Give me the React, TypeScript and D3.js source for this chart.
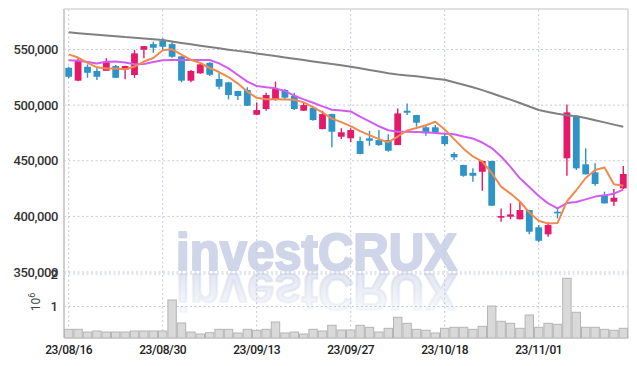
import { useEffect, useRef } from "react";
import * as d3 from "d3";

// trading days (KRX)
const dates = [
  "23/08/16", "23/08/17", "23/08/18", "23/08/21", "23/08/22", "23/08/23", "23/08/24", "23/08/25", "23/08/28", "23/08/29",
  "23/08/30", "23/08/31", "23/09/01", "23/09/04", "23/09/05", "23/09/06", "23/09/07", "23/09/08", "23/09/11", "23/09/12",
  "23/09/13", "23/09/14", "23/09/15", "23/09/18", "23/09/19", "23/09/20", "23/09/21", "23/09/22", "23/09/25", "23/09/26",
  "23/09/27", "23/10/04", "23/10/05", "23/10/06", "23/10/10", "23/10/11", "23/10/12", "23/10/13", "23/10/16", "23/10/17",
  "23/10/18", "23/10/19", "23/10/20", "23/10/23", "23/10/24", "23/10/25", "23/10/26", "23/10/27", "23/10/30", "23/10/31",
  "23/11/01", "23/11/02", "23/11/03", "23/11/06", "23/11/07", "23/11/08", "23/11/09", "23/11/10", "23/11/13", "23/11/14",
];

const opens = [
  533600, 522000, 534500, 530700, 530900, 535200, 531800, 527100, 549800, 554900,
  557900, 554900, 543900, 522000, 528600, 538100, 523500, 520500, 512700, 513600,
  491400, 496500, 505500, 513600, 508500, 495000, 497700, 478500, 492000, 471600,
  470200, 467700, 470200, 468600, 468600, 464100, 495000, 491100, 480100, 480100,
  472200, 456100, 446200, 439200, 440100, 449800, 398800, 399700, 397400, 405700,
  390200, 383900, 404200, 452200, 490500, 446800, 439600, 419200, 413200, 425200,
];
const highs = [
  534500, 542100, 536700, 533100, 542100, 536000, 535500, 549600, 553100, 557000,
  560100, 557000, 544200, 531600, 537000, 538500, 529100, 521000, 513000, 516000,
  502500, 511200, 521100, 514500, 511200, 502500, 498000, 495000, 492300, 479200,
  479200, 471600, 477000, 477600, 473800, 497100, 501600, 491300, 482100, 482100,
  474700, 457600, 446500, 443200, 450000, 450000, 407200, 411700, 413200, 406000,
  392200, 394700, 407200, 500700, 490800, 461200, 447700, 422200, 424600, 445300,
];
const lows = [
  524100, 521500, 524600, 522600, 530900, 524400, 523200, 524600, 542100, 547100,
  549600, 542600, 520500, 520500, 528300, 526200, 514200, 505200, 504600, 499300,
  491000, 495000, 504000, 505200, 495600, 494700, 486000, 478200, 462100, 469500,
  466600, 455800, 463500, 463500, 458100, 464100, 491100, 480600, 472500, 474000,
  463500, 450700, 435600, 431200, 423100, 409300, 395200, 397400, 397100, 383900,
  376700, 381700, 398200, 436500, 441700, 437600, 427600, 411500, 409300, 424600,
];
const closes = [
  525500, 540600, 529100, 525500, 539000, 524600, 535200, 546600, 553100, 551600,
  552500, 543500, 522000, 530700, 536700, 527300, 516600, 509100, 508200, 499500,
  495600, 509100, 514500, 506700, 496500, 500100, 486600, 492000, 476100, 475600,
  477600, 456100, 468000, 464100, 459000, 492600, 493200, 484200, 474700, 475200,
  465000, 453100, 436500, 436500, 449800, 409600, 400300, 401800, 405700, 386200,
  378100, 392200, 402700, 493500, 443200, 437800, 429100, 411700, 416800, 438100,
];
const volumes = [
  298000, 298000, 215000, 246000, 215000, 215000, 215000, 246000, 246000, 246000,
  246000, 1200000, 492000, 215000, 154000, 194000, 298000, 298000, 185000, 298000,
  268000, 298000, 523000, 185000, 215000, 154000, 298000, 246000, 422000, 277000,
  277000, 422000, 360000, 215000, 329000, 668000, 483000, 298000, 268000, 185000,
  329000, 360000, 360000, 298000, 391000, 1015000, 545000, 483000, 329000, 738000,
  360000, 483000, 452000, 1868000, 822000, 360000, 360000, 298000, 268000, 329000,
];
const ma5 = [
  545700, 542800, 538000, 534000, 532900, 532900, 532200, 534700, 539200, 542400,
  549300, 550200, 545500, 540800, 537900, 533400, 529800, 525300, 519400, 512200,
  506600, 505400, 505300, 505000, 504800, 502500, 498300, 493500, 487900, 484800,
  481200, 476700, 473100, 469500, 466700, 471800, 477200, 479400, 481900, 485100,
  478100, 469500, 460900, 453900, 449300, 439000, 426800, 420500, 413400, 403500,
  396100, 393500, 394000, 413500, 423500, 434500, 441700, 443900, 428800, 427600,
];
const ma20 = [
  540300, 539900, 538800, 537400, 539000, 539200, 538300, 536800, 537000, 538800,
  540300, 540600, 540600, 540600, 540600, 540600, 537600, 533100, 527100, 521100,
  517200, 516000, 515100, 512700, 508500, 505200, 502200, 498900, 495900, 495300,
  494400, 489600, 485500, 481000, 477400, 476100, 476100, 475800, 475600, 474900,
  474300, 473800, 471800, 470000, 466400, 461400, 453800, 444500, 434200, 426400,
  418300, 411700, 407300, 412000, 412900, 415300, 417800, 418900, 420400, 424100,
];
const ma60 = [
  565500, 564700, 564000, 563400, 562700, 562000, 561200, 560600, 559900, 559200,
  558500, 557200, 555900, 554700, 553400, 552200, 551100, 549900, 548800, 547700,
  546500, 545300, 544200, 542900, 541700, 540600, 539300, 538100, 537000, 535800,
  534500, 533100, 531700, 530200, 528700, 527500, 526700, 525900, 524900, 523800,
  522800, 520600, 518400, 516100, 513500, 510700, 507800, 505000, 501900, 498800,
  495700, 493900, 492200, 491000, 490000, 488400, 486400, 484500, 482500, 480500,
];

const priceTicks = [350000, 400000, 450000, 500000, 550000];
const volTicks = [1000000, 2000000];
const dateTicks = ["23/08/16", "23/08/30", "23/09/13", "23/09/27", "23/10/18", "23/11/01"];

export default function App() {
  const ref = useRef<SVGSVGElement>(null);

  useEffect(() => {
    if (!ref.current) return;
    const svg = d3.select(ref.current);
    svg.selectAll("*").remove();

    const left = 64;
    const right = 628;
    const top = 9.5;
    const priceBottom = 272;
    const bottom = 338;
    const font = "Roboto, 'DejaVu Sans', sans-serif";
    const gridColor = "#c5c9dc";
    const wmColor = "#d0d6ea";

    const x = d3.scaleBand().domain(dates).range([left, right]).padding(0);
    const cx = (d: string) => (x(d) || 0) + x.bandwidth() / 2;
    const y = d3.scaleLinear().domain([350000, 586000]).range([priceBottom, top]);
    const yv = d3.scaleLinear().domain([0, 2000000]).range([339, 274]);

    const defs = svg.append("defs");
    defs
      .append("clipPath")
      .attr("id", "volclip")
      .append("rect")
      .attr("x", left)
      .attr("y", 272)
      .attr("width", right - left)
      .attr("height", bottom - 272);
    const grad = defs
      .append("linearGradient")
      .attr("id", "reflect")
      .attr("gradientUnits", "userSpaceOnUse")
      .attr("x1", 0)
      .attr("x2", 0)
      .attr("y1", 271)
      .attr("y2", 232);
    grad.append("stop").attr("offset", 0).attr("stop-color", wmColor).attr("stop-opacity", 0.6);
    grad.append("stop").attr("offset", 1).attr("stop-color", wmColor).attr("stop-opacity", 0.15);

    // watermark + reflection
    const wm = svg.append("g");
    wm.append("text")
      .attr("x", 176)
      .attr("y", 270)
      .attr("textLength", 281)
      .attr("lengthAdjust", "spacingAndGlyphs")
      .style("font-family", "'Liberation Sans', Arial, sans-serif")
      .style("font-weight", "bold")
      .style("font-size", "51px")
      .attr("fill", wmColor)
      .attr("stroke", wmColor)
      .attr("stroke-width", 2.2)
      .attr("stroke-linejoin", "round")
      .text("investCRUX");
    wm.append("text")
      .attr("transform", "translate(0,544) scale(1,-1)")
      .attr("x", 176)
      .attr("y", 270)
      .attr("textLength", 281)
      .attr("lengthAdjust", "spacingAndGlyphs")
      .style("font-family", "'Liberation Sans', Arial, sans-serif")
      .style("font-weight", "bold")
      .style("font-size", "51px")
      .attr("fill", "url(#reflect)")
      .attr("stroke", "url(#reflect)")
      .attr("stroke-width", 2.2)
      .attr("stroke-linejoin", "round")
      .text("investCRUX");

    // grid
    const grid = svg.append("g").attr("stroke", gridColor).attr("stroke-dasharray", "2,2.5");
    grid
      .selectAll(".hp")
      .data(priceTicks)
      .join("line")
      .attr("x1", left)
      .attr("x2", right)
      .attr("y1", (d) => y(d))
      .attr("y2", (d) => y(d));
    grid
      .selectAll(".hv")
      .data(volTicks)
      .join("line")
      .attr("x1", left)
      .attr("x2", right)
      .attr("y1", (d) => yv(d))
      .attr("y2", (d) => yv(d));
    grid
      .selectAll(".vx")
      .data(dateTicks)
      .join("line")
      .attr("x1", (d) => cx(d))
      .attr("x2", (d) => cx(d))
      .attr("y1", top)
      .attr("y2", bottom);

    // frame
    svg.append("line").attr("x1", left).attr("x2", right).attr("y1", top - 0.5).attr("y2", top - 0.5)
      .attr("stroke", "#d6d6d6").attr("stroke-width", 1.5);
    svg.append("line").attr("x1", right).attr("x2", right).attr("y1", top - 0.5).attr("y2", bottom)
      .attr("stroke", "#d6d6d6").attr("stroke-width", 1.5);
    svg.append("line").attr("x1", left).attr("x2", left).attr("y1", top - 0.5).attr("y2", bottom)
      .attr("stroke", "#cfcfcf").attr("stroke-width", 2);

    // volume bars
    svg
      .append("g")
      .attr("clip-path", "url(#volclip)")
      .selectAll("rect")
      .data(volumes)
      .join("rect")
      .attr("x", (_, i) => (x(dates[i]) || 0) + 0.5)
      .attr("width", x.bandwidth() - 1)
      .attr("y", (d) => yv(d))
      .attr("height", (d) => bottom - yv(d))
      .attr("fill", "#d9d9d9")
      .attr("stroke", "#b5b5b5")
      .attr("stroke-width", 1);

    // candles
    const up = "#e5196a";
    const down = "#2e94c8";
    const idx = d3.range(dates.length);
    const candles = svg.append("g");
    candles
      .selectAll("line")
      .data(idx)
      .join("line")
      .attr("x1", (i) => cx(dates[i]))
      .attr("x2", (i) => cx(dates[i]))
      .attr("y1", (i) => y(highs[i]))
      .attr("y2", (i) => y(lows[i]))
      .attr("stroke", (i) => (closes[i] >= opens[i] ? up : down))
      .attr("stroke-width", 1.4);
    candles
      .selectAll("rect")
      .data(idx)
      .join("rect")
      .attr("x", (i) => cx(dates[i]) - 3.4)
      .attr("width", 6.8)
      .attr("y", (i) => y(Math.max(opens[i], closes[i])))
      .attr("height", (i) => Math.max(1.5, Math.abs(y(opens[i]) - y(closes[i]))))
      .attr("fill", (i) => (closes[i] >= opens[i] ? up : down));

    // moving averages
    const lines: [number[], string][] = [
      [ma60, "#808080"],
      [ma20, "#d35cf0"],
      [ma5, "#f08a4f"],
    ];
    lines.forEach(([vals, color]) => {
      const line = d3
        .line<number>()
        .x((_, i) => cx(dates[i]))
        .y((d) => y(d));
      svg
        .append("path")
        .attr("d", line(vals))
        .attr("fill", "none")
        .attr("stroke", color)
        .attr("stroke-width", 2)
        .attr("stroke-linejoin", "round");
    });

    // price axis
    const ya = svg
      .append("g")
      .attr("transform", `translate(${left},0)`)
      .call(d3.axisLeft(y).tickValues(priceTicks).tickSize(0).tickPadding(6).tickFormat(d3.format(",")));
    ya.select(".domain").remove();
    ya.selectAll("text")
      .style("font-family", font)
      .style("font-size", "13px")
      .style("font-weight", "500")
      .style("letter-spacing", "-0.4px")
      .attr("fill", "#333");

    // volume axis
    const va = svg
      .append("g")
      .attr("transform", `translate(${left},0)`)
      .call(d3.axisLeft(yv).tickValues(volTicks).tickSize(0).tickPadding(6).tickFormat((d) => `${+d / 1e6}`));
    va.select(".domain").remove();
    va.selectAll("text")
      .style("font-family", font)
      .style("font-size", "13px")
      .style("font-weight", "500")
      .attr("fill", "#333");

    const unit = svg
      .append("text")
      .attr("transform", "translate(40,302) rotate(-90)")
      .attr("text-anchor", "middle")
      .style("font-family", font)
      .style("font-size", "12px")
      .attr("fill", "#444");
    unit.append("tspan").text("10");
    unit.append("tspan").attr("dy", -5).style("font-size", "9px").text("6");

    // date axis
    const xa = svg
      .append("g")
      .attr("transform", `translate(0,${bottom})`)
      .call(d3.axisBottom(x).tickValues(dateTicks).tickSize(0).tickPadding(7));
    xa.select(".domain").attr("stroke", "#cfcfcf");
    xa.selectAll("text")
      .style("font-family", font)
      .style("font-size", "12px")
      .style("font-weight", "500")
      .style("letter-spacing", "-0.4px")
      .attr("fill", "#222");
  }, []);

  return (
    <div style={{ position: "absolute", left: 0, top: 0 }}>
      <svg ref={ref} width={637} height={366} style={{ display: "block", background: "#fff" }}></svg>
    </div>
  );
}
